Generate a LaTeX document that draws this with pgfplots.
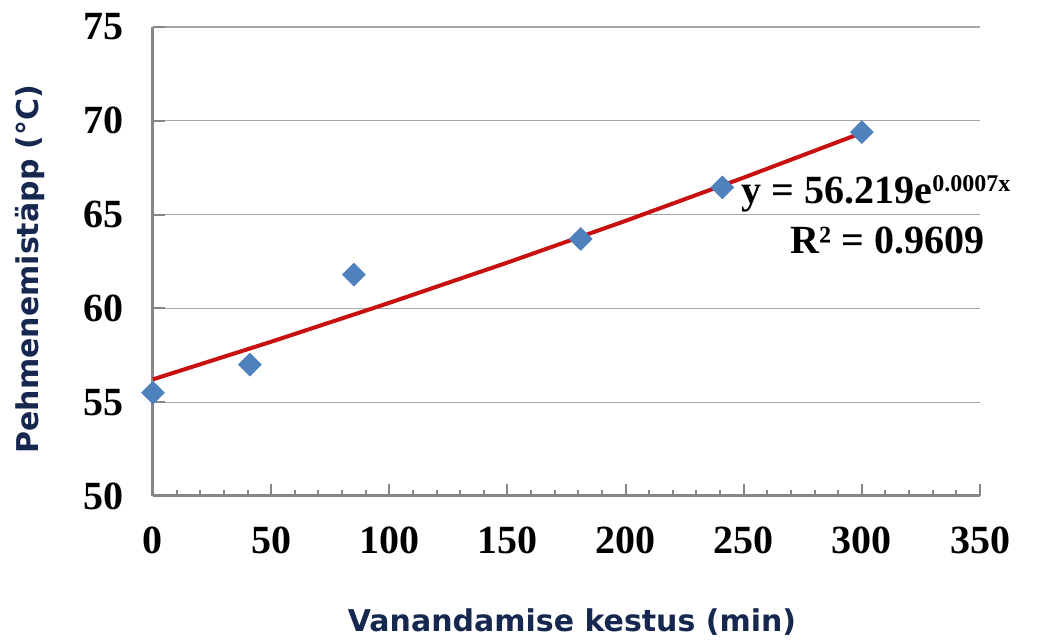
\documentclass[border=0pt]{standalone}
\usepackage{fontspec}
\setmainfont{Liberation Serif}
\newfontfamily\lblfont{DejaVu Sans}
\usepackage{pgfplots}
\pgfplotsset{compat=1.18}
\definecolor{axgray}{RGB}{134,134,134}
\definecolor{gridgray}{RGB}{165,165,165}
\definecolor{ptblue}{RGB}{79,129,189}
\definecolor{trendred}{RGB}{200,16,16}
\definecolor{lblblue}{RGB}{22,40,80}
\begin{document}
\begin{tikzpicture}
\begin{axis}[
  scale only axis, width=413.5pt, height=234.5pt,
  xmin=0, xmax=350, ymin=50, ymax=75,
  clip=false,
  axis lines*=left,
  xtick={0,50,...,350}, ytick={50,55,...,75},
  minor x tick num=4,
  tick align=inside,
  tick style={axgray, line width=1pt},
  major tick length=6pt, minor tick length=3pt,
  ymajorgrids, grid style={gridgray, line width=0.6pt},
  axis line style={axgray, line width=1.5pt},
  ticklabel style={font=\fontsize{20}{24}\selectfont\bfseries},
  /pgf/number format/assume math mode=true,
  xticklabel style={yshift=-12pt},
  yticklabel style={xshift=-11pt},
  xlabel={Vanandamise kestus (min)},
  ylabel={Pehmenemistäpp (°C)},
  label style={font=\fontsize{15}{18}\selectfont\lblfont\bfseries, text=lblblue},
  xlabel style={at={(rel axis cs:0.5,0)}, anchor=center, yshift=-63pt, xshift=2.75pt},
  ylabel style={at={(rel axis cs:0,0.5)}, anchor=center, yshift=61.5pt, xshift=-3.75pt},
]
\coordinate (O) at (rel axis cs:0,0);
\addplot[only marks, mark=square*, mark size=4pt, mark options={rotate=45, fill=ptblue, draw=ptblue}]
  coordinates {(0,55.5) (41,57.0) (85,61.8) (181,63.7) (241,66.45) (300,69.4)};
\addplot[trendred, line width=2pt]
  coordinates {(0,56.219) (50,58.222) (100,60.296) (150,62.443) (200,64.667) (250,66.971) (300,69.356)};
\node[anchor=base west, font=\fontsize{20}{24}\selectfont\bfseries, inner sep=0pt]
  at (axis cs:249,65.6) {y = 56.219e\raisebox{6pt}{\fontsize{12}{14}\selectfont 0.0007x}};
\node[anchor=base west, font=\fontsize{20}{24}\selectfont\bfseries, inner sep=0pt]
  at (axis cs:269.6,62.9) {R² = 0.9609};
\end{axis}
\pgfresetboundingbox
\path (O) ++(-76.5pt,-72.5pt) rectangle ++(520pt,320.5pt);
\end{tikzpicture}
\end{document}
